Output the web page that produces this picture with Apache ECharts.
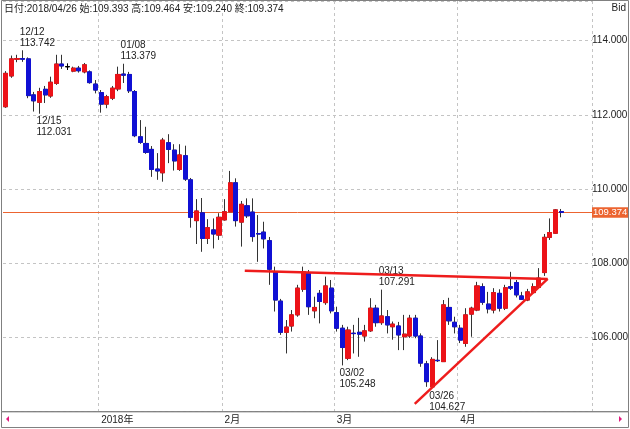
<!DOCTYPE html>
<html>
<head>
<meta charset="utf-8">
<script src="https://cdn.jsdelivr.net/npm/echarts@6/dist/echarts.min.js"></script>
<style>
html,body{margin:0;padding:0;background:#fff;}
#c{width:630px;height:429px;}
</style>
</head>
<body>
<div id="c"></div>
<script>
// ---- data ----
const dates = ['12/07','12/08','12/11','12/12','12/13','12/14','12/15','12/18','12/19','12/20','12/21','12/22','12/25','12/26','12/27','12/28','12/29',
'01/02','01/03','01/04','01/05','01/08','01/09','01/10','01/11','01/12','01/15','01/16','01/17','01/18','01/19','01/22','01/23','01/24','01/25','01/26','01/29','01/30','01/31',
'02/01','02/02','02/05','02/06','02/07','02/08','02/09','02/12','02/13','02/14','02/15','02/16','02/19','02/20','02/21','02/22','02/23','02/26','02/27','02/28',
'03/01','03/02','03/05','03/06','03/07','03/08','03/09','03/12','03/13','03/14','03/15','03/16','03/19','03/20','03/21','03/22','03/23','03/26','03/27','03/28','03/29','03/30',
'04/02','04/03','04/04','04/05','04/06','04/09','04/10','04/11','04/12','04/13','04/16','04/17','04/18','04/19','04/20','04/23','04/24','04/25','04/26'];

const opens = [112.22,113.05,113.50,113.52,113.51,112.54,112.34,112.69,112.51,112.85,113.37,113.30,113.18,113.26,113.16,113.16,112.83,
112.60,112.29,112.45,112.70,113.10,113.09,112.63,111.41,111.23,111.07,110.54,110.44,111.25,111.05,110.53,110.90,110.25,109.15,109.36,108.67,108.90,108.76,
109.17,109.39,110.17,109.11,109.55,109.38,108.80,108.84,108.61,107.77,106.98,106.14,106.31,106.61,107.30,107.73,106.72,107.19,106.94,107.33,
106.67,106.25,105.44,106.115,106.14,106.04,106.18,106.79,106.40,106.56,106.29,106.31,106.02,106.04,106.52,106.04,105.29,104.67,105.385,105.35,106.81,106.41,
106.25,105.84,106.63,106.74,107.37,106.90,106.74,107.19,106.79,107.37,107.48,107.12,107.01,107.21,107.35,107.75,108.70,108.81,109.393];

const highs = [113.18,113.60,113.62,113.742,113.55,112.62,112.73,112.78,113.03,113.62,113.62,113.39,113.30,113.32,113.40,113.20,112.94,
112.67,112.54,112.78,113.30,113.379,113.16,112.67,111.86,111.68,111.16,110.97,111.38,111.48,111.21,111.21,111.17,110.30,109.73,109.76,109.19,109.21,109.35,
109.73,110.49,110.29,109.68,109.75,109.75,109.30,109.12,108.71,107.91,107.04,106.47,106.74,107.42,107.91,107.82,107.10,107.28,107.64,107.55,
106.83,106.34,106.29,106.34,106.53,106.34,107.06,106.88,107.291,106.74,106.43,106.42,106.61,106.61,106.61,106.11,105.37,105.47,105.93,107.01,107.07,106.56,
106.34,106.79,106.83,107.50,107.46,107.23,107.33,107.30,107.42,107.77,107.55,107.23,107.31,107.46,107.87,108.79,109.21,109.46,109.464];

const lows = [112.19,113.00,113.42,113.43,112.45,112.09,112.031,112.32,112.46,112.81,113.24,113.21,113.15,113.14,113.12,112.84,112.58,
112.06,112.18,112.40,112.64,112.86,112.59,111.40,111.22,110.95,110.33,110.25,110.20,110.70,110.50,110.49,110.22,108.96,108.52,108.31,108.52,108.40,108.63,
109.15,109.38,108.99,108.45,109.22,108.58,108.04,108.40,107.42,106.70,106.07,105.57,106.16,106.56,107.23,106.61,106.52,106.38,106.88,106.65,
106.16,105.248,105.39,105.57,105.48,105.89,106.15,106.29,106.34,106.11,105.94,105.66,105.66,105.99,105.98,105.21,104.67,104.627,105.34,105.34,106.34,106.11,
105.85,105.75,106.02,106.71,106.88,106.65,106.65,106.70,106.74,107.28,107.08,107.01,106.98,107.19,107.33,107.66,108.63,108.79,109.240];

const closes = [113.12,113.51,113.52,113.50,112.52,112.38,112.63,112.54,112.88,113.37,113.32,113.30,113.26,113.19,113.35,112.87,112.67,
112.29,112.49,112.72,113.09,113.07,112.65,111.44,111.26,110.99,110.53,110.49,111.32,111.07,110.76,110.92,110.27,109.24,109.41,108.67,108.96,108.79,109.24,
109.39,110.17,109.15,109.59,109.28,108.72,108.79,108.66,107.84,107.01,106.14,106.28,106.61,107.33,107.77,106.83,106.81,106.97,107.39,106.72,
106.25,105.73,106.20,106.105,106.09,106.18,106.79,106.40,106.58,106.34,106.36,106.07,106.09,106.52,106.04,105.31,104.81,105.41,105.375,106.88,106.45,106.29,
105.93,106.61,106.79,107.39,106.95,106.77,107.21,106.79,107.34,107.33,107.15,107.03,107.23,107.37,107.60,108.70,108.83,109.44,109.374];

const padCategories = ['p1','p2','p3','p4','p5'];
const monthStarts = ['01/02','02/01','03/01','04/02'];
const monthLabels = ['2018年','2月','3月','4月'];
const yTicks = [106,108,110,112,114];

// annotations (date, value, side)
const annDates = ['12/12','12/15','01/08','03/02','03/13','03/26'];
const annValues = [113.742,112.031,113.379,105.248,107.291,104.627];
const annSides = ['top','bottom','top','bottom','top','bottom'];

// trend lines drawn on chart: [index, price]
const trendTop = [[42.6,107.80],[96.6,107.58]];
const trendRise = [[72.9,104.21],[96.6,107.58]];

// ---- build ----
const cats = dates.concat(padCategories);
const n = dates.length;
const last = n - 1;
const monthIdx = monthStarts.map(d => dates.indexOf(d));
const wickData = dates.map((d,i) => [opens[i], closes[i], lows[i], highs[i]]);
const bodyData = dates.map((d,i) => [opens[i], closes[i], Math.min(opens[i],closes[i]), Math.max(opens[i],closes[i])]);

const FONT = '"Liberation Sans","Noto Sans CJK JP",sans-serif';
const RED = '#ec1218', BLUE = '#1010d4', ORANGE = '#ec6430';
const FS = 10;

const markPts = annDates.map((d,k) => {
  const i = dates.indexOf(d);
  return {
    coord: [i, annValues[k]],
    label: {
      show: true,
      position: annSides[k],
      distance: 2,
      align: 'left',
      offset: [-3, 0],
      formatter: d + '\n' + annValues[k].toFixed(3)
    }
  };
});

const header = '日付:2018/' + dates[last] + ' 始:' + opens[last].toFixed(3) + ' 高:' + highs[last].toFixed(3) +
  ' 安:' + lows[last].toFixed(3) + ' 終:' + closes[last].toFixed(3);

const chart = echarts.init(document.getElementById('c'), null, {renderer:'canvas'});
chart.setOption({
  animation: false,
  backgroundColor: '#ffffff',
  textStyle: {fontFamily: FONT},
  grid: {left: 3, right: 38, top: 1, bottom: 17.3, containLabel: false, outerBoundsMode: 'none'},
  xAxis: [{
    type: 'category',
    data: cats,
    boundaryGap: true,
    axisLine: {show: false},
    axisTick: {show: false},
    axisLabel: {
      interval: (i) => monthIdx.indexOf(i) >= 0,
      formatter: (v, i) => { const k = monthIdx.indexOf(i); return k >= 0 ? monthLabels[k] : ''; },
      align: 'left',
      margin: 4,
      fontSize: FS,
      color: '#222',
      fontFamily: FONT
    },
    splitLine: {show: true, interval: (i) => monthIdx.indexOf(i) >= 0, lineStyle: {color: '#c4c4c4', type: [3,3], width: 1}}
  }, {
    type: 'value', min: -0.5, max: cats.length - 0.5, show: false
  }],
  yAxis: {
    type: 'value',
    position: 'right',
    min: 104, max: 115.07, interval: 2,
    axisLine: {show: false},
    axisTick: {show: false},
    axisLabel: {
      formatter: (v) => yTicks.indexOf(Math.round(v*1000)/1000) >= 0 ? v.toFixed(3) : '',
      showMinLabel: false, showMaxLabel: false,
      margin: 0, fontSize: FS, color: '#222', fontFamily: FONT
    },
    splitLine: {show: true, lineStyle: {color: '#c4c4c4', type: [3,3], width: 1}}
  },
  series: [{
    type: 'candlestick',
    name: 'wick',
    z: 2,
    barWidth: 4.6,
    data: wickData,
    itemStyle: {color: 'transparent', color0: 'transparent', borderColor: '#333', borderColor0: '#333', borderColorDoji: '#000', borderWidth: 1},
    markLine: {
      silent: true,
      symbol: 'none',
      z: 1,
      data: [{yAxis: closes[last]}],
      lineStyle: {color: ORANGE, width: 1, type: 'solid'},
      label: {
        show: true, position: 'end', distance: 0,
        formatter: closes[last].toFixed(3),
        color: '#fff', backgroundColor: ORANGE, padding: [1,1,0,1],
        fontSize: 9.5, fontFamily: FONT
      }
    }
  }, {
    type: 'candlestick',
    name: 'body',
    z: 3,
    barWidth: 4.6,
    data: bodyData,
    itemStyle: {color: RED, color0: BLUE, borderColor: RED, borderColor0: BLUE, borderColorDoji: '#000', borderWidth: 1},
    markPoint: {
      symbol: 'circle', symbolSize: 0, silent: true,
      data: markPts,
      label: {color: '#222', fontSize: FS, lineHeight: 11, fontFamily: FONT}
    }
  }, {
    type: 'line', xAxisIndex: 1, z: 5, data: trendTop, symbol: 'none', silent: true,
    lineStyle: {color: '#ee1c1c', width: 2.5}
  }, {
    type: 'line', xAxisIndex: 1, z: 5, data: trendRise, symbol: 'none', silent: true,
    lineStyle: {color: '#ee1c1c', width: 2.5}
  }],
  graphic: [
    {type: 'rect', silent: true, z: 100, shape: {x: 1.5, y: 0.5, width: 627, height: 411.2}, style: {fill: 'none', stroke: '#808080', lineWidth: 1}},
    {type: 'rect', silent: true, z: 100, shape: {x: 1.5, y: 411.7, width: 627, height: 15.8}, style: {fill: 'none', stroke: '#808080', lineWidth: 1}},
    {type: 'polygon', silent: true, z: 100, shape: {points: [[9,416],[9,422],[6,419]]}, style: {fill: '#e0197d'}},
    {type: 'polygon', silent: true, z: 100, shape: {points: [[619,416],[619,422],[622,419]]}, style: {fill: '#e0197d'}},
    {type: 'text', silent: true, z: 100, x: 4, y: 4, style: {text: header, fill: '#222', fontSize: FS, fontFamily: FONT}},
    {type: 'text', silent: true, z: 100, x: 626, y: 3, style: {text: 'Bid', fill: '#222', fontSize: FS, fontFamily: FONT, align: 'right'}}
  ]
});
</script>
</body>
</html>
